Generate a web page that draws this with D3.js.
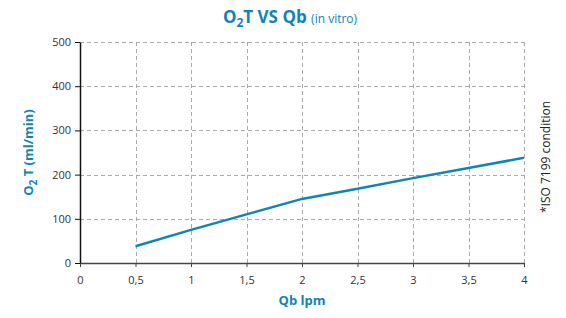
<!DOCTYPE html>
<html lang="en">
<head>
  <meta charset="UTF-8">
  <script src="https://d3js.org/d3.v7.min.js"></script>
  <title>O2T VS Qb</title>
  <style>
    body { margin: 0; background: #fff; }
    svg { font-family: "Open Sans", "Noto Sans", sans-serif; }
  </style>
</head>
<body>
  <svg id="chart" width="566" height="318"></svg>
  <script>
    // values
    const qb = [0.5, 1, 1.5, 2, 2.5, 3, 3.5, 4];
    const o2t = [38, 75, 110, 145, 168, 192, 215, 238];
    const xTicks = [0, 0.5, 1, 1.5, 2, 2.5, 3, 3.5, 4];
    const yTicks = [0, 100, 200, 300, 400, 500];

    const blue = "#0f84b9";
    const svg = d3.select("#chart");
    const m = { left: 80, right: 42, top: 42, bottom: 55 };
    const W = 566, H = 318;

    const x = d3.scaleLinear().domain([0, 4]).range([m.left, W - m.right]);
    const y = d3.scaleLinear().domain([0, 500]).range([H - m.bottom, m.top]);

    // grid
    const grid = svg.append("g").attr("stroke", "#aaa").attr("stroke-dasharray", "4,3").attr("stroke-width", 1);
    grid.selectAll(".gy").data(yTicks.slice(1)).enter().append("line")
      .attr("x1", x(0)).attr("x2", x(4))
      .attr("y1", d => Math.round(y(d)) + 0.5).attr("y2", d => Math.round(y(d)) + 0.5);
    grid.selectAll(".gx").data(xTicks.slice(1)).enter().append("line")
      .attr("y1", y(0)).attr("y2", y(500))
      .attr("x1", d => Math.round(x(d)) + 0.5).attr("x2", d => Math.round(x(d)) + 0.5);

    // axes
    const fmt = d => String(d).replace(".", ",");
    const xAxis = svg.append("g")
      .attr("transform", `translate(0,${y(0)})`)
      .call(d3.axisBottom(x).tickValues(xTicks).tickFormat(fmt).tickSize(4).tickSizeOuter(0).tickPadding(9));
    xAxis.select(".domain").attr("stroke", "#444").attr("stroke-width", 1.5);
    xAxis.selectAll(".tick line").attr("stroke", "#444");

    const yAxis = svg.append("g")
      .attr("transform", `translate(${x(0)},0)`)
      .call(d3.axisLeft(y).tickValues(yTicks).tickSize(5).tickSizeOuter(0).tickPadding(4));
    yAxis.select(".domain").attr("stroke", "#111").attr("stroke-width", 1.5);
    yAxis.selectAll(".tick line").attr("stroke", "#111");

    svg.selectAll(".tick text").attr("font-size", 11).attr("fill", "#333")
      .attr("font-family", "'Open Sans', 'Noto Sans', sans-serif");

    // line
    const line = d3.line().x((d, i) => x(qb[i])).y(d => y(d));
    svg.append("path").datum(o2t)
      .attr("d", line).attr("fill", "none")
      .attr("stroke", blue).attr("stroke-width", 2.5);

    // title
    const title = svg.append("text").attr("x", 290).attr("y", 23)
      .attr("text-anchor", "middle").attr("fill", blue).attr("font-weight", "bold").attr("font-size", 17);
    title.append("tspan").text("O");
    title.append("tspan").attr("font-size", 12).attr("dy", 4).text("2");
    title.append("tspan").attr("dy", -4).text("T VS Qb ");
    title.append("tspan").attr("font-size", 12).attr("font-weight", "normal").text("(in vitro)");

    // y label
    const yl = svg.append("text").attr("transform", `translate(33,${(y(0) + y(500)) / 2}) rotate(-90)`)
      .attr("text-anchor", "middle").attr("fill", blue).attr("font-weight", "bold").attr("font-size", 13);
    yl.append("tspan").text("O");
    yl.append("tspan").attr("font-size", 10).attr("dy", 4).text("2");
    yl.append("tspan").attr("dy", -4).text(" T (ml/min)");

    // x label
    svg.append("text").attr("x", (x(0) + x(4)) / 2).attr("y", 305)
      .attr("text-anchor", "middle").attr("fill", blue).attr("font-weight", "bold").attr("font-size", 13)
      .text("Qb lpm");

    // side note
    svg.append("text").attr("transform", `translate(550,157) rotate(-90)`)
      .attr("text-anchor", "middle").attr("fill", "#222").attr("font-size", 12)
      .text("*ISO 7199 condition");
  </script>
</body>
</html>
